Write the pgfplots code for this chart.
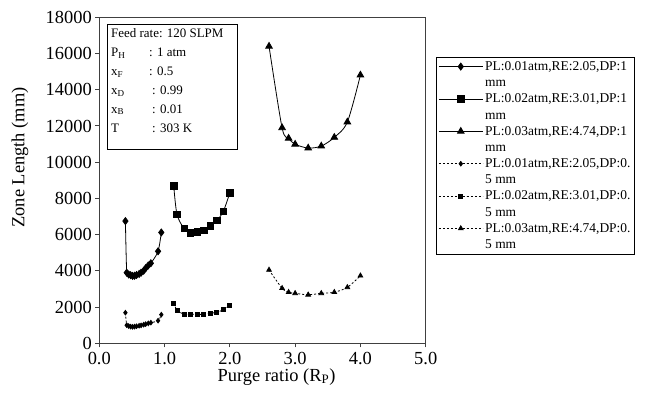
\documentclass[border=0pt]{standalone}
\usepackage{pgfplots}
\pgfplotsset{compat=1.18}
\usepackage{fontspec}
\setmainfont{Liberation Serif}
\begin{document}
\begin{tikzpicture}
\begin{axis}[
  at={(0,0)}, anchor=south west,
  scale only axis, width=326.4bp, height=326bp,
  xmin=0, xmax=5, ymin=0, ymax=18000,
  xtick={0,1,2,3,4,5}, ytick={0,2000,...,18000},
  /pgf/number format/assume math mode=true,
  xticklabel={\pgfmathprintnumber[fixed,fixed zerofill,precision=1]{\tick}},
  yticklabel={\pgfmathprintnumber[fixed,precision=0,1000 sep={}]{\tick}},
  scaled y ticks=false, scaled x ticks=false,
  tick align=outside, tick pos=left, major tick length=4bp,
  axis line style={line width=1.1bp, black!75},
  every tick/.style={line width=1bp, black!75},
  ticklabel style={font=\fontsize{18.5}{21}\selectfont, black},
  xticklabel style={yshift=-1bp},
  xlabel={Purge ratio (R\textsubscript{P})},
  ylabel={Zone Length (mm)},
  label style={font=\fontsize{18.5}{21}\selectfont},
  xlabel style={at={(axis description cs:0.543,-0.103)}, anchor=center},
  ylabel style={at={(axis description cs:-0.243,0.57)}, anchor=center},
  every axis plot/.append style={line width=0.8bp, black},
  legend image code/.code={\draw[mark repeat=2,mark phase=2,yshift=8.25bp,#1] plot coordinates {(0bp,0bp) (22bp,0bp) (44bp,0bp)};},
  legend cell align=left,
  legend style={at={(1,1)}, anchor=north west, xshift=10.3bp, yshift=-39.7bp,
    draw=black, line width=0.8bp, inner sep=2bp, row sep=1.5bp,
    font=\fontsize{13.5}{16.5}\selectfont,
    nodes={align=left, inner sep=2bp}},
]
\addplot[smooth, mark=diamond*, mark size=3.5bp] coordinates {
(0.40,6750) (0.42,3900) (0.45,3800) (0.48,3760) (0.51,3720) (0.54,3730) (0.57,3770) (0.61,3830) (0.64,3900) (0.68,4010) (0.71,4150) (0.75,4300) (0.79,4420) (0.90,5080) (0.95,6120)};
\addlegendentry{PL:0.01atm,RE:2.05,DP:1\\mm}
\addplot[smooth, mark=square*, mark size=3.2bp] coordinates {
(1.14,8700) (1.19,7120) (1.30,6330) (1.40,6090) (1.50,6160) (1.60,6250) (1.70,6480) (1.80,6770) (1.90,7290) (2.00,8310)};
\addlegendentry{PL:0.02atm,RE:3.01,DP:1\\mm}
\addplot[smooth, mark=triangle*, mark size=3.8bp] coordinates {
(2.60,16400) (2.80,11900) (2.90,11320) (3.00,10990) (3.20,10780) (3.40,10890) (3.60,11370) (3.80,12220) (4.00,14810)};
\addlegendentry{PL:0.03atm,RE:4.74,DP:1\\mm}
\addplot[smooth, dash pattern=on 2bp off 2bp, mark=diamond*, mark size=2.3bp, mark options={solid}] coordinates {
(0.40,1690) (0.42,1000) (0.45,950) (0.48,920) (0.51,910) (0.54,920) (0.57,940) (0.61,970) (0.64,990) (0.68,1030) (0.71,1060) (0.75,1100) (0.79,1140) (0.90,1250) (0.95,1580)};
\addlegendentry{PL:0.01atm,RE:2.05,DP:0.\\5 mm}
\addplot[smooth, dash pattern=on 2bp off 2bp, mark=square*, mark size=2bp, mark options={solid}] coordinates {
(1.14,2225) (1.19,1840) (1.30,1600) (1.40,1600) (1.50,1600) (1.60,1600) (1.70,1660) (1.80,1710) (1.90,1860) (2.00,2100)};
\addlegendentry{PL:0.02atm,RE:3.01,DP:0.\\5 mm}
\addplot[smooth, dash pattern=on 2bp off 2bp, mark=triangle*, mark size=2.7bp, mark options={solid}] coordinates {
(2.60,4050) (2.80,3040) (2.90,2820) (3.00,2760) (3.20,2680) (3.40,2760) (3.60,2820) (3.80,3090) (4.00,3730)};
\addlegendentry{PL:0.03atm,RE:4.74,DP:0.\\5 mm}
\node[draw, line width=1bp, anchor=north west, inner sep=4bp] at (rel axis cs:0.0227,0.9795)
{\parbox[t][117bp][t]{122bp}{\fontsize{13}{19}\selectfont
Feed rate: 120 SLPM\\
\makebox[38bp][l]{P\textsubscript{H}}: 1 atm\\
\makebox[38bp][l]{x\textsubscript{F}}: 0.5\\
\makebox[41bp][l]{x\textsubscript{D}}: 0.99\\
\makebox[41bp][l]{x\textsubscript{B}}: 0.01\\
\makebox[41bp][l]{T}: 303 K}};
\end{axis}
\path (-99.3bp,-51.7bp) rectangle (547.7bp,343.3bp);
\end{tikzpicture}
\end{document}
